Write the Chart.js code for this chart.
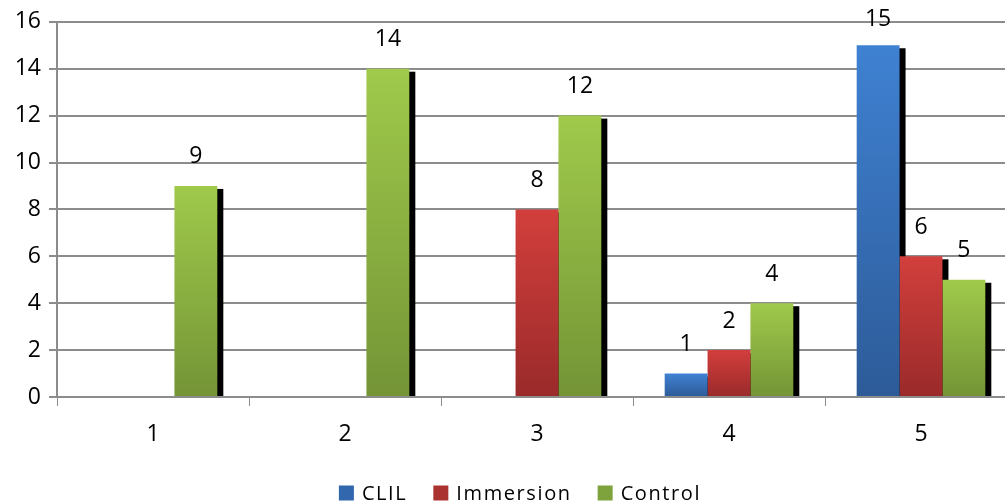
<!DOCTYPE html>
<html>
<head>
<meta charset="utf-8">
<script src="https://cdn.jsdelivr.net/npm/chart.js@4/dist/chart.umd.min.js"></script>
<style>
html,body{margin:0;padding:0;background:#fff;overflow:hidden;}
#wrap{position:relative;width:1017px;height:502px;}
</style>
</head>
<body>
<div id="wrap"><canvas id="c" width="1017" height="502"></canvas></div>
<script>
const categories = ['1', '2', '3', '4', '5'];
const clil = [0, 0, 0, 1, 15];
const immersion = [0, 0, 8, 2, 6];
const control = [9, 14, 12, 4, 5];
const seriesNames = ['CLIL', 'Immersion', 'Control'];
const yTicks = [0, 2, 4, 6, 8, 10, 12, 14, 16];

const FONT = "'Open Sans', sans-serif";
const colors = [
  ['#3f81d2', '#2d5b98'],
  ['#d23f3c', '#9a2a2a'],
  ['#9fca4b', '#749436']
];
const legendColors = ['#3266ad', '#aa3230', '#7ea33d'];

function grad(i) {
  return function(ctx) {
    if (ctx.type !== 'data') return colors[i][0];
    const chart = ctx.chart;
    const ys = chart.scales && chart.scales.y;
    if (!ys || !chart.chartArea) return colors[i][0];
    const top = ys.getPixelForValue(ctx.raw);
    const base = ys.getPixelForValue(0);
    if (!(base - top > 0)) return colors[i][0];
    const g = chart.ctx.createLinearGradient(0, top, 0, base);
    g.addColorStop(0, colors[i][0]);
    g.addColorStop(1, colors[i][1]);
    return g;
  };
}

const shadowPlugin = {
  id: 'shadow',
  beforeDatasetsDraw(chart) {
    const ctx = chart.ctx;
    ctx.save();
    ctx.fillStyle = '#000';
    chart.data.datasets.forEach((ds, di) => {
      const meta = chart.getDatasetMeta(di);
      meta.data.forEach((el, j) => {
        if (!ds.data[j]) return;
        const w = el.width;
        const left = el.x - w / 2 + 6;
        const top = el.y + 3;
        ctx.fillRect(left, top, w, el.base - top);
      });
    });
    ctx.restore();
  }
};

const labelPlugin = {
  id: 'vlabels',
  afterDatasetsDraw(chart) {
    const ctx = chart.ctx;
    const a = chart.chartArea;
    ctx.save();
    ctx.fillStyle = '#000';
    ctx.font = '23px ' + FONT;
    ctx.textAlign = 'center';
    ctx.textBaseline = 'middle';
    chart.data.datasets.forEach((ds, di) => {
      const meta = chart.getDatasetMeta(di);
      meta.data.forEach((el, j) => {
        const v = ds.data[j];
        if (!v) return;
        const y = Math.max(el.y - 29, a.top - 2);
        ctx.fillText(String(v), el.x, y);
      });
    });
    ctx.restore();
  }
};

const legendPlugin = {
  id: 'customLegend',
  afterDraw(chart) {
    const ctx = chart.ctx;
    ctx.save();
    ctx.font = '20px ' + FONT;
    ctx.letterSpacing = '1.6px';
    ctx.textBaseline = 'middle';
    ctx.textAlign = 'left';
    const box = 15, gapText = 8, gapItem = 26;
    const widths = seriesNames.map(n => ctx.measureText(n).width);
    let total = 0;
    widths.forEach((w, i) => { total += box + gapText + w + (i < widths.length - 1 ? gapItem : 0); });
    let x = 520 - total / 2;
    const cy = 493;
    seriesNames.forEach((n, i) => {
      ctx.fillStyle = legendColors[i];
      ctx.fillRect(x, cy - box / 2, box, box);
      ctx.fillStyle = '#000';
      ctx.fillText(n, x + box + gapText, cy + 1);
      x += box + gapText + widths[i] + gapItem;
    });
    ctx.restore();
  }
};

const datasets = [clil, immersion, control].map((d, i) => ({
  label: seriesNames[i],
  data: d,
  backgroundColor: grad(i),
  borderWidth: 0,
  categoryPercentage: 0.67,
  barPercentage: 1.0
}));

new Chart(document.getElementById('c'), {
  type: 'bar',
  data: { labels: categories, datasets },
  plugins: [shadowPlugin, labelPlugin, legendPlugin],
  options: {
    responsive: false,
    animation: false,
    events: [],
    layout: { padding: { top: 12, right: 0, left: 0, bottom: 45 } },
    plugins: {
      tooltip: { enabled: false },
      legend: { display: false }
    },
    scales: {
      x: {
        afterFit(scale) { scale.height = 60; },
        grid: { display: true, drawOnChartArea: false, drawTicks: true, tickLength: 9, color: '#8c8c8c', lineWidth: 1 },
        border: { display: true, color: '#8c8c8c', width: 2 },
        ticks: { font: { family: FONT, size: 23 }, color: '#000', padding: 15 }
      },
      y: {
        min: 0, max: 16,
        afterBuildTicks(scale) { scale.ticks = yTicks.map(v => ({ value: v })); },
        afterFit(scale) { scale.width = 57; },
        grid: { color: '#8c8c8c', lineWidth: 2, tickLength: 8 },
        border: { display: true, color: '#8c8c8c', width: 2 },
        ticks: { font: { family: FONT, size: 23 }, color: '#000', padding: 8 }
      }
    }
  }
});
</script>
</body>
</html>
